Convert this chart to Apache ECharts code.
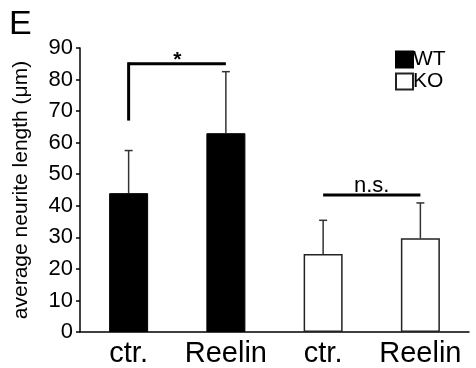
<!DOCTYPE html>
<html>
<head>
<meta charset="utf-8">
<script src="https://cdn.jsdelivr.net/npm/echarts@6/dist/echarts.min.js"></script>
<style>
  html, body { margin: 0; padding: 0; background: #fff; }
  #chart { width: 476px; height: 368px; }
</style>
</head>
<body>
<div id="chart"></div>
<script>
// Neurite length per condition (µm), mean and SD
const categories = ['ctr.', 'Reelin', 'ctr.', 'Reelin'];
const wtMean = [44, 63, '-', '-'];
const koMean = ['-', '-', 24.7, 29.7];
const meanAll = [44, 63, 24.7, 29.7];
const sdAll = [13.5, 19.5, 10.7, 11.2];
const yTicks = { min: 0, max: 90, step: 10 };

// Significance brackets: [fromCategory, toCategory, level, leftDrop, label]
const brackets = [
  [0, 1, 85, 67, '*'],
  [2, 3, 43.4, null, 'n.s.']
];

const FONT = 'Liberation Sans, Arial, sans-serif';
const chart = echarts.init(document.getElementById('chart'));

const errorData = meanAll.map((m, i) => [i, m, sdAll[i]]);

chart.setOption({
  animation: false,
  backgroundColor: '#fff',
  grid: { left: 80, right: 7, top: 48, bottom: 36 },
  graphic: [{
    type: 'text', left: 9, top: 8,
    style: { text: 'E', font: '34px ' + FONT, fill: '#000' }
  }],
  legend: {
    orient: 'vertical', left: 395, top: 49, padding: 0,
    itemWidth: 17, itemHeight: 16, itemGap: 1,
    icon: 'rect',
    textStyle: { fontFamily: FONT, fontSize: 21, color: '#000', padding: [0, 0, 0, -5] },
    data: ['WT', 'KO']
  },
  xAxis: {
    type: 'category', data: categories,
    axisLine: { lineStyle: { color: '#000', width: 1.5 } },
    axisTick: { show: false },
    axisLabel: { interval: 0, hideOverlap: false, fontFamily: FONT, fontSize: 29, color: '#000', margin: 7 }
  },
  yAxis: {
    type: 'value', min: yTicks.min, max: yTicks.max, interval: yTicks.step,
    name: 'average neurite length (\u03bcm)', nameLocation: 'middle', nameGap: 48,
    nameTextStyle: { fontFamily: FONT, fontSize: 21, color: '#000' },
    splitLine: { show: false },
    axisLine: { show: true, lineStyle: { color: '#000', width: 1.5 } },
    axisTick: { show: true, length: 4, lineStyle: { color: '#000', width: 1.5 } },
    axisLabel: { fontFamily: FONT, fontSize: 22, color: '#000', margin: 7 }
  },
  series: [
    {
      name: 'WT', type: 'bar', stack: 'g', data: wtMean, barWidth: 39,
      itemStyle: { color: '#000', borderColor: '#000', borderWidth: 1 }
    },
    {
      name: 'KO', type: 'bar', stack: 'g', data: koMean, barWidth: 39,
      itemStyle: { color: '#fff', borderColor: '#222', borderWidth: 1.5 }
    },
    {
      // upward error bars with caps
      type: 'custom', data: errorData, z: 5,
      renderItem: function (params, api) {
        const x = api.value(0), m = api.value(1), sd = api.value(2);
        const base = api.coord([x, m]);
        const top = api.coord([x, m + sd]);
        const cap = 4;
        return {
          type: 'group', children: [
            { type: 'line', shape: { x1: base[0], y1: base[1], x2: top[0], y2: top[1] },
              style: { stroke: '#333', lineWidth: 1.5 } },
            { type: 'line', shape: { x1: top[0] - cap, y1: top[1], x2: top[0] + cap, y2: top[1] },
              style: { stroke: '#333', lineWidth: 1.5 } }
          ]
        };
      }
    },
    {
      // significance brackets and their labels
      type: 'custom', data: brackets.map(b => [b[0], b[1], b[2], b[3] == null ? -1 : b[3]]), z: 6,
      renderItem: function (params, api) {
        const b = brackets[params.dataIndex];
        const a = api.coord([b[0], b[2]]);
        const c = api.coord([b[1], b[2]]);
        const children = [
          { type: 'line', shape: { x1: a[0], y1: a[1], x2: c[0], y2: c[1] },
            style: { stroke: '#000', lineWidth: 3 } }
        ];
        if (b[3] != null) {
          const d = api.coord([b[0], b[3]]);
          children.push({ type: 'line', shape: { x1: a[0], y1: a[1] - 1.5, x2: d[0], y2: d[1] },
            style: { stroke: '#000', lineWidth: 3 } });
        }
        const star = b[4] === '*';
        children.push({
          type: 'text', x: (a[0] + c[0]) / 2, y: a[1] + (star ? 7 : 2),
          style: { text: b[4], font: (star ? 'bold 21px ' : '22px ') + FONT, fill: '#000',
                   align: 'center', verticalAlign: 'bottom' }
        });
        return { type: 'group', children: children };
      }
    }
  ]
});
</script>
</body>
</html>
